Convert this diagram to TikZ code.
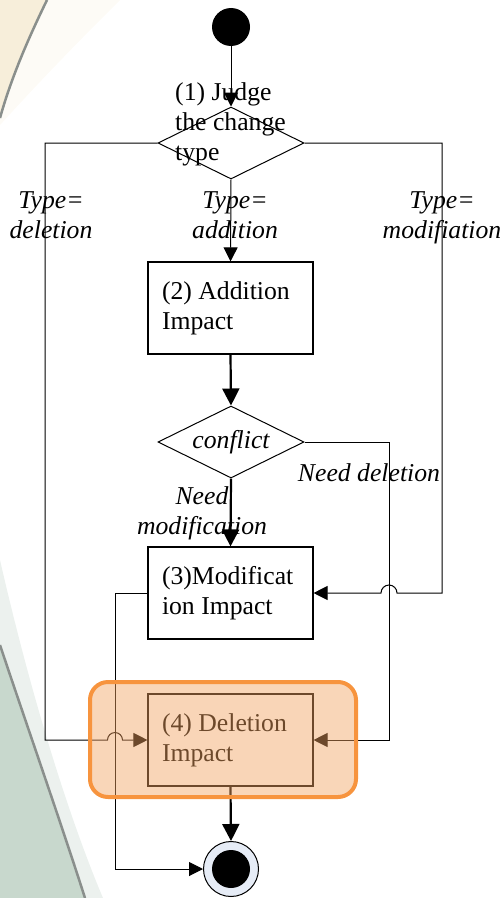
\documentclass[tikz,border=0pt]{standalone}
\usepackage{fontspec}
\setmainfont{Liberation Serif}
\usetikzlibrary{shapes.geometric,arrows.meta}

\definecolor{cream}{HTML}{F7EEDA}
\definecolor{sage}{HTML}{C8D8CD}
\definecolor{haze}{HTML}{ECF1EE}
\definecolor{curveline}{HTML}{8A8F8C}
\definecolor{hlfill}{HTML}{F2A361}
\definecolor{hlborder}{HTML}{F7943E}
\definecolor{endfill}{HTML}{E6ECF6}

\begin{document}
\begin{tikzpicture}[x=1bp,y=-1bp,
  txt/.style={font=\fontsize{25.7bp}{30bp}\selectfont, inner sep=0pt},
  itxt/.style={font=\fontsize{25.7bp}{30bp}\selectfont\itshape, inner sep=0pt},
  actbox/.style={draw=black, line width=1.1bp, fill=white, minimum width=165bp,
    minimum height=92bp, text width=137bp, inner xsep=14bp, inner ysep=0pt,
    align=flush left, font=\fontsize{25.7bp}{30bp}\selectfont},
  decision/.style={draw=black, line width=1bp, fill=white, shape=diamond,
    minimum width=146bp, minimum height=72bp, inner sep=0pt},
  flow/.style={draw=black, line width=1bp, -{Triangle[length=14bp,width=14bp]}},
  mainflow/.style={draw=black, line width=2.2bp, -{Triangle[length=17bp,width=17bp]}},
  dot/.style={circle, fill=black, minimum size=38bp, inner sep=0pt},
]
\useasboundingbox (0,0) rectangle (504,898);

% decorative background curves
\fill[cream, opacity=0.25] (47,0) -- (120,0) .. controls (90,30) and (50,70) .. (0,125) -- (0,118) .. controls (12,75) and (30,35) .. (47,0) -- cycle;
\fill[cream] (0,0) -- (47,0) .. controls (30,35) and (12,75) .. (0,118) -- cycle;
\draw[curveline, line width=2.5bp] (47,0) .. controls (30,35) and (12,75) .. (0,118);
\fill[haze] (0,560) .. controls (32,700) and (70,820) .. (103,898) -- (0,898) -- cycle;
\fill[sage] (0,645) .. controls (25,720) and (60,820) .. (85,898) -- (0,898) -- cycle;
\draw[curveline, line width=2.5bp] (0,645) .. controls (25,720) and (60,820) .. (85,898);

% activity nodes
\node[dot] (start) at (231,27) {};
\node[decision] (d1) at (231,143) {};
\node[txt, align=left, anchor=north west] (d1text) at (175,82.5) {(1) Judge\\the change\\type};
\node[actbox] (b2) at (230.5,308) {(2) Addition\\Impact};
\node[decision] (d2) at (231,442) {};
\node[itxt] (d2text) at (d2) {conflict};
\node[actbox] (b3) at (230.5,593) {(3)Modificat\\ion Impact};
\node[actbox] (b4) at (230.5,740) {(4) Deletion\\Impact};
\node[circle, draw=black, line width=1bp, fill=endfill, minimum size=55bp, inner sep=0pt] (stop) at (231,869) {};
\node[dot] (stopdot) at (stop) {};

% main flow
\draw[flow] (start) -- (d1.north);
\draw[flow] (d1.south) -- (b2.north);
\draw[mainflow] (b2.south) -- (d2.north);
\draw[mainflow] (d2.south) -- (b3.north);
\draw[mainflow] (b4.south) -- (stop.north);

% branches
\draw[flow] (b3.west) -- (115,593) -- (115,869) -- (stop.west);
\draw[flow] (d2.east) -- (389,442) -- (389,740) -- (b4.east);
\draw[flow] (d1.west) -- (45,143) -- (45,740) -- (107.5,740)
  arc[start angle=180, end angle=0, radius=7.5bp] -- (b4.west);
\draw[flow] (d1.east) -- (442,143) -- (442,593) -- (397,593)
  arc[start angle=0, end angle=180, radius=8bp] -- (b3.east);

% guard labels
\node[itxt, align=center, anchor=north] (ldel) at (51,191) {Type=\\deletion};
\node[itxt, align=center, anchor=north] (ladd) at (235,191) {Type=\\addition};
\node[itxt, align=center, anchor=north] (lmod) at (442,191) {Type=\\modifiation};
\node[itxt, anchor=base] (lneeddel) at (369,481) {Need deletion};
\node[itxt, align=center, anchor=north] (lneedmod) at (202,486) {Need\\modification};

% highlight around the deletion step
\draw[draw=hlborder, line width=4bp, fill=hlfill, fill opacity=0.45, rounded corners=18bp]
  (90,682) rectangle (356,797);
\end{tikzpicture}
\end{document}
